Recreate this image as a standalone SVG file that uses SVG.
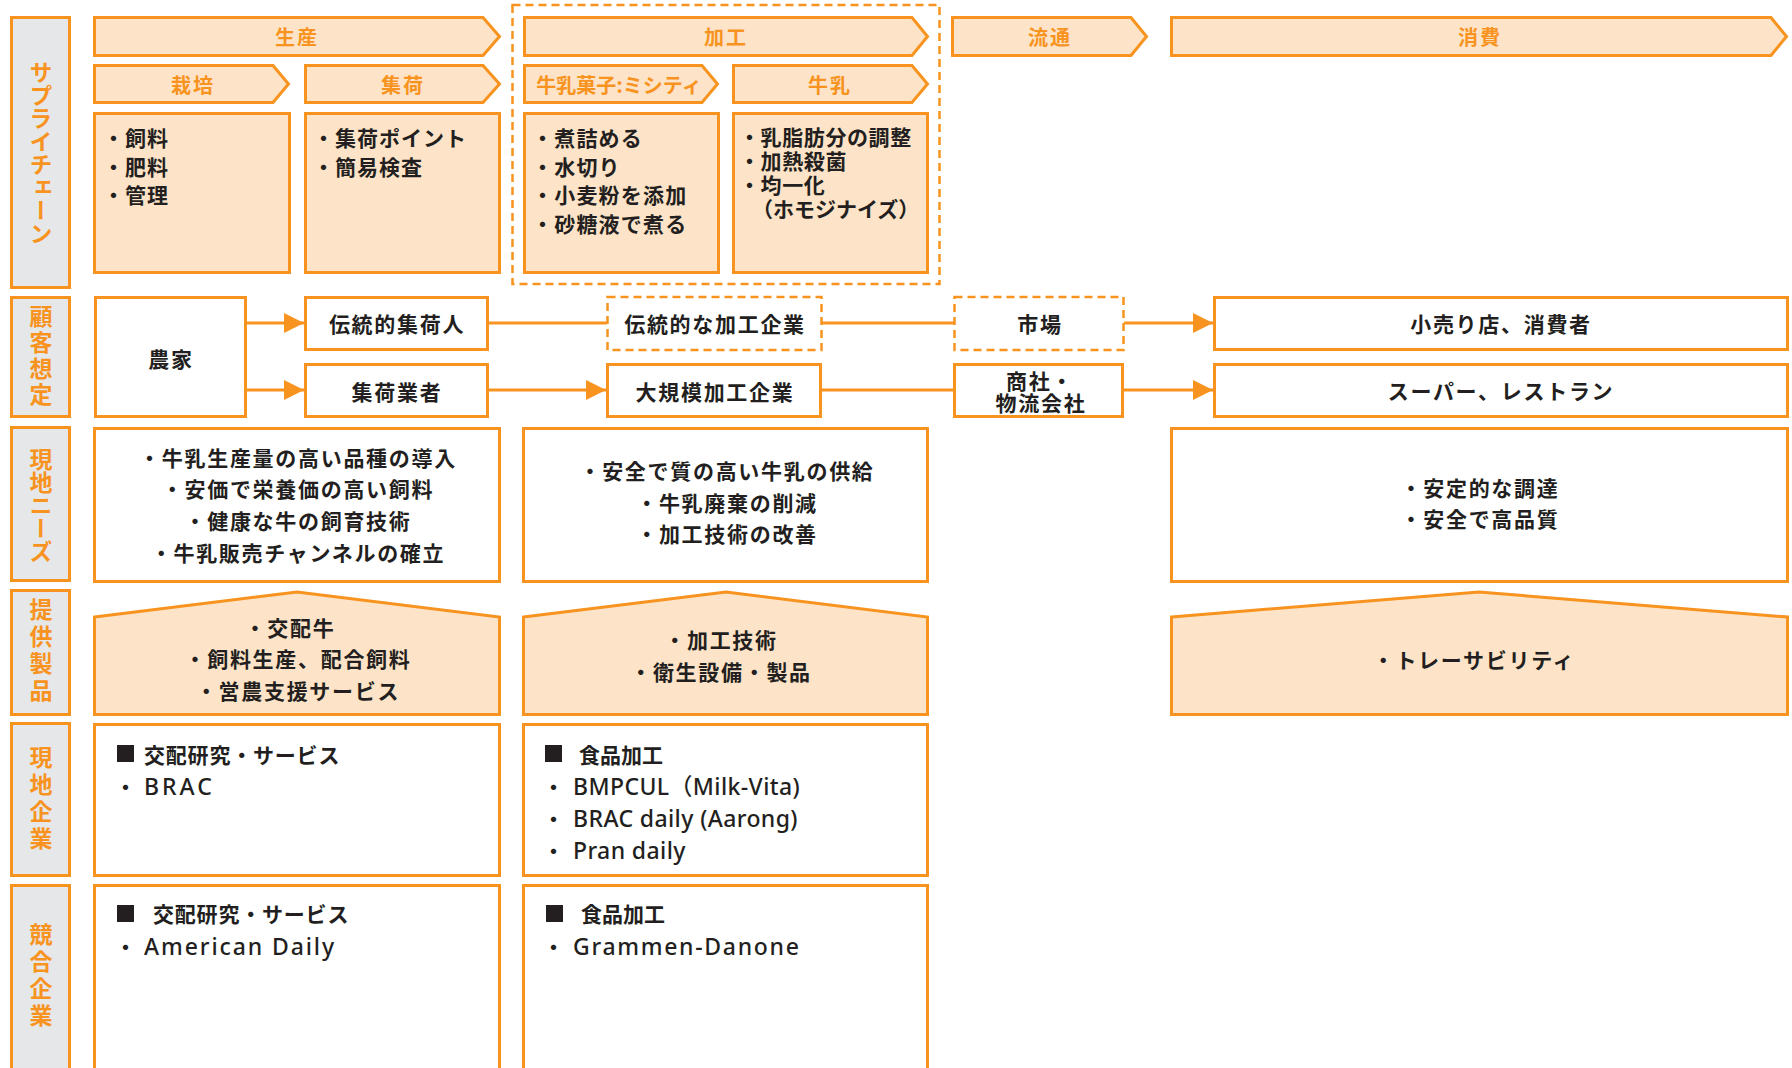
<svg xmlns="http://www.w3.org/2000/svg" width="1792" height="1068" viewBox="0 0 1792 1068">
<style>
.box{fill:#fff;stroke:#f7931e;stroke-width:3}
.pbox{fill:#fde3c7;stroke:#f7931e;stroke-width:3}
.side{fill:#e6e7e8;stroke:#f7931e;stroke-width:3}
.dash{fill:#fff;stroke:#f7931e;stroke-width:2.5;stroke-dasharray:8 5}
.dashbig{fill:none;stroke:#f7931e;stroke-width:2.5;stroke-dasharray:8 5}
.t{font-family:"Noto Sans CJK JP","Noto Sans",sans-serif;font-size:21px;fill:#231f20;font-weight:600;letter-spacing:1.7px;dominant-baseline:central}
.c{text-anchor:middle}
.h{font-family:"Noto Sans CJK JP",sans-serif;font-size:20px;fill:#f7931e;font-weight:700;text-anchor:middle;dominant-baseline:central;letter-spacing:2px}
.v{font-family:"Noto Sans CJK JP",sans-serif;font-size:23px;fill:#f7931e;font-weight:700;writing-mode:vertical-rl;text-anchor:middle}
.lat{font-family:"Noto Sans","Noto Sans CJK JP",sans-serif;font-size:23px;font-weight:500;letter-spacing:0.4px}
.conn{stroke:#f7931e;stroke-width:3;fill:none}
.sq{fill:#231f20}
</style>
<defs>
<marker id="ah" markerUnits="userSpaceOnUse" markerWidth="20" markerHeight="20" viewBox="0 0 20 20" refX="20" refY="10" orient="auto">
<path d="M0,0 L20,10 L0,20 z" fill="#f7931e"/>
</marker>
</defs>

<!-- side labels -->
<g id="side-supply"><rect class="side" x="11.5" y="17.5" width="58" height="270"/><text class="v" x="41" y="153">サプライチェーン</text></g>
<g id="side-customer"><rect class="side" x="11.5" y="297.5" width="58" height="119"/><text class="v" x="41" y="357" style="letter-spacing:3px">顧客想定</text></g>
<g id="side-needs"><rect class="side" x="11.5" y="427.5" width="58" height="153"/><text class="v" x="41" y="505">現地ニーズ</text></g>
<g id="side-products"><rect class="side" x="11.5" y="590.5" width="58" height="124"/><text class="v" x="41" y="652" style="letter-spacing:4px">提供製品</text></g>
<g id="side-local"><rect class="side" x="11.5" y="723.5" width="58" height="152"/><text class="v" x="41" y="800" style="letter-spacing:4px">現地企業</text></g>
<g id="side-compet"><rect class="side" x="11.5" y="885.5" width="58" height="200"/><text class="v" x="41" y="977" style="letter-spacing:4px">競合企業</text></g>

<!-- supply chain -->
<g id="processing-group"><rect class="dashbig" x="512.5" y="5" width="427" height="279"/></g>
<g id="h-seisan"><polygon class="pbox" points="94.5,17.5 483,17.5 499.5,36.5 483,55.5 94.5,55.5"/><text class="h" x="297" y="36">生産</text></g>
<g id="h-kakou"><polygon class="pbox" points="524.5,17.5 912,17.5 927.5,36.5 912,55.5 524.5,55.5"/><text class="h" x="726" y="36">加工</text></g>
<g id="h-ryutsu"><polygon class="pbox" points="952.5,17.5 1131,17.5 1146.5,36.5 1131,55.5 952.5,55.5"/><text class="h" x="1050" y="36">流通</text></g>
<g id="h-shouhi"><polygon class="pbox" points="1171.5,17.5 1771,17.5 1786.5,36.5 1771,55.5 1171.5,55.5"/><text class="h" x="1480" y="36">消費</text></g>
<g id="h-saibai"><polygon class="pbox" points="94.5,65.5 273,65.5 288.5,84 273,102.5 94.5,102.5"/><text class="h" x="193" y="84">栽培</text></g>
<g id="h-shuka"><polygon class="pbox" points="305.5,65.5 483,65.5 499.5,84 483,102.5 305.5,102.5"/><text class="h" x="403" y="84">集荷</text></g>
<g id="h-gashi"><polygon class="pbox" points="524.5,65.5 702,65.5 717.5,84 702,102.5 524.5,102.5"/><text class="h" x="619" y="84" style="letter-spacing:0">牛乳菓子:ミシティ</text></g>
<g id="h-milk"><polygon class="pbox" points="733.5,65.5 912,65.5 927.5,84 912,102.5 733.5,102.5"/><text class="h" x="830" y="84">牛乳</text></g>

<g id="b-saibai"><rect class="pbox" x="94.5" y="113.5" width="195" height="159"/>
<text class="t" x="103" y="137" style="letter-spacing:1px">・飼料</text><text class="t" x="103" y="166" style="letter-spacing:1px">・肥料</text><text class="t" x="103" y="194" style="letter-spacing:1px">・管理</text></g>
<g id="b-shuka"><rect class="pbox" x="305.5" y="113.5" width="194" height="159"/>
<text class="t" x="313" y="137" style="letter-spacing:1px">・集荷ポイント</text><text class="t" x="313" y="166" style="letter-spacing:1px">・簡易検査</text></g>
<g id="b-gashi"><rect class="pbox" x="524.5" y="113.5" width="194" height="159"/>
<text class="t" x="532" y="137" style="letter-spacing:1.2px">・煮詰める</text><text class="t" x="532" y="166" style="letter-spacing:1.2px">・水切り</text><text class="t" x="532" y="194" style="letter-spacing:1.2px">・小麦粉を添加</text><text class="t" x="532" y="223" style="letter-spacing:1.2px">・砂糖液で煮る</text></g>
<g id="b-milk"><rect class="pbox" x="733.5" y="113.5" width="194" height="159"/>
<text class="t" x="739" y="136" style="letter-spacing:0.6px">・乳脂肪分の調整</text><text class="t" x="739" y="160" style="letter-spacing:0.6px">・加熱殺菌</text><text class="t" x="739" y="184" style="letter-spacing:0.6px">・均一化</text><text class="t" x="752" y="208" style="letter-spacing:0">（ホモジナイズ）</text></g>

<!-- customer row -->
<g id="n-nouka"><rect class="box" x="95.5" y="297.5" width="150" height="119"/><text class="t c" x="171" y="358">農家</text></g>
<g id="n-dentou-shuka"><rect class="box" x="305.5" y="297.5" width="182" height="52"/><text class="t c" x="397" y="323">伝統的集荷人</text></g>
<g id="n-shuka-gyosha"><rect class="box" x="305.5" y="364.5" width="182" height="52"/><text class="t c" x="397" y="391">集荷業者</text></g>
<g id="n-dentou-kakou"><rect class="dash" x="607.5" y="297" width="214" height="53"/><text class="t c" x="715" y="323">伝統的な加工企業</text></g>
<g id="n-daikibo"><rect class="box" x="607.5" y="364.5" width="213" height="52"/><text class="t c" x="715" y="391">大規模加工企業</text></g>
<g id="n-ichiba"><rect class="dash" x="954.5" y="297" width="169" height="53"/><text class="t c" x="1040" y="323">市場</text></g>
<g id="n-shousha"><rect class="box" x="954.5" y="364.5" width="168" height="52"/><text class="t c" x="1040" y="380">商社・</text><text class="t c" x="1041" y="402">物流会社</text></g>
<g id="n-kouri"><rect class="box" x="1214.5" y="297.5" width="573" height="52"/><text class="t c" x="1501" y="323">小売り店、消費者</text></g>
<g id="n-super"><rect class="box" x="1214.5" y="364.5" width="573" height="52"/><text class="t c" x="1501" y="390">スーパー、レストラン</text></g>

<g id="connectors">
<path class="conn" d="M247,323 H304" marker-end="url(#ah)"/>
<path class="conn" d="M247,390 H304" marker-end="url(#ah)"/>
<path class="conn" d="M489,323 H607"/>
<path class="conn" d="M489,390 H606" marker-end="url(#ah)"/>
<path class="conn" d="M822,323 H954"/>
<path class="conn" d="M822,390 H954"/>
<path class="conn" d="M1124,323 H1213" marker-end="url(#ah)"/>
<path class="conn" d="M1124,390 H1213" marker-end="url(#ah)"/>
</g>

<!-- needs -->
<g id="needs-1"><rect class="box" x="94.5" y="428.5" width="405" height="153"/>
<text class="t c" x="298" y="457">・牛乳生産量の高い品種の導入</text>
<text class="t c" x="298" y="488">・安価で栄養価の高い飼料</text>
<text class="t c" x="298" y="520">・健康な牛の飼育技術</text>
<text class="t c" x="298" y="552">・牛乳販売チャンネルの確立</text></g>
<g id="needs-2"><rect class="box" x="523.5" y="428.5" width="404" height="153"/>
<text class="t c" x="727" y="470">・安全で質の高い牛乳の供給</text>
<text class="t c" x="727" y="502">・牛乳廃棄の削減</text>
<text class="t c" x="727" y="533">・加工技術の改善</text></g>
<g id="needs-3"><rect class="box" x="1171.5" y="428.5" width="616" height="153"/>
<text class="t c" x="1480" y="487">・安定的な調達</text>
<text class="t c" x="1480" y="518">・安全で高品質</text></g>

<!-- products -->
<g id="prod-1"><polygon class="pbox" points="94.5,617 297,592 499.5,617 499.5,714.5 94.5,714.5"/>
<text class="t c" x="290" y="627">・交配牛</text>
<text class="t c" x="298" y="658">・飼料生産、配合飼料</text>
<text class="t c" x="298" y="690">・営農支援サービス</text></g>
<g id="prod-2"><polygon class="pbox" points="523.5,617 726,592 927.5,617 927.5,714.5 523.5,714.5"/>
<text class="t c" x="721" y="639">・加工技術</text>
<text class="t c" x="721" y="671">・衛生設備・製品</text></g>
<g id="prod-3"><polygon class="pbox" points="1171.5,617 1479,592 1787.5,617 1787.5,714.5 1171.5,714.5"/>
<text class="t c" x="1474" y="659">・トレーサビリティ</text></g>

<!-- local companies -->
<g id="local-1"><rect class="box" x="94.5" y="724.5" width="405" height="151"/>
<rect class="sq" x="117" y="745" width="17" height="17"/>
<text class="t" x="144" y="754" style="letter-spacing:0.8px">交配研究・サービス</text>
<text class="t" x="115" y="786">・</text><text class="t lat" x="144" y="786" style="letter-spacing:3px">BRAC</text></g>
<g id="local-2"><rect class="box" x="523.5" y="724.5" width="404" height="151"/>
<rect class="sq" x="545" y="745" width="17" height="17"/>
<text class="t" x="579" y="754" style="letter-spacing:0">食品加工</text>
<text class="t" x="543" y="786">・</text><text class="t lat" x="573" y="786">BMPCUL（Milk-Vita)</text>
<text class="t" x="543" y="818">・</text><text class="t lat" x="573" y="818">BRAC daily (Aarong)</text>
<text class="t" x="543" y="850">・</text><text class="t lat" x="573" y="850">Pran daily</text></g>

<!-- competitors -->
<g id="compet-1"><rect class="box" x="94.5" y="885.5" width="405" height="200"/>
<rect class="sq" x="117" y="905" width="17" height="17"/>
<text class="t" x="153" y="913" style="letter-spacing:0.8px">交配研究・サービス</text>
<text class="t" x="115" y="946">・</text><text class="t lat" x="144" y="946" style="letter-spacing:1.9px">American Daily</text></g>
<g id="compet-2"><rect class="box" x="523.5" y="885.5" width="404" height="200"/>
<rect class="sq" x="546" y="905" width="17" height="17"/>
<text class="t" x="581" y="913" style="letter-spacing:0">食品加工</text>
<text class="t" x="543" y="946">・</text><text class="t lat" x="573" y="946" style="letter-spacing:1.7px">Grammen-Danone</text></g>
</svg>
